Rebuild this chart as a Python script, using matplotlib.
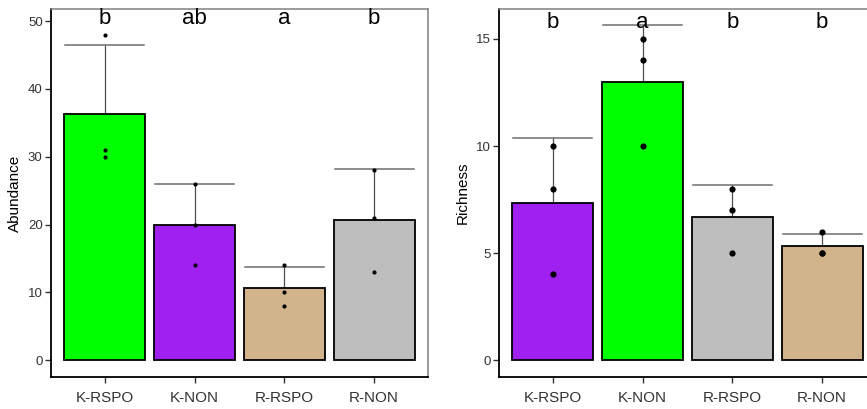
import matplotlib
matplotlib.use("Agg")
import matplotlib.pyplot as plt
import numpy as np

plt.rcParams['font.family'] = ['Liberation Sans', 'DejaVu Sans']

# ---- data ----
ab_categories = ["K-RSPO", "K-NON", "R-RSPO", "R-NON"]
ab_points = [[48, 31, 30], [26, 20, 14], [14, 10, 8], [28, 21, 13]]
ab_letters = ["b", "ab", "a", "b"]
ab_colors = ["#00FF00", "#A020F0", "#D2B48C", "#BEBEBE"]
ab_yticks = [0, 10, 20, 30, 40, 50]

ri_categories = ["K-RSPO", "K-NON", "R-RSPO", "R-NON"]
ri_points = [[10, 8, 4], [15, 14, 10], [8, 7, 5], [6, 5, 5]]
ri_letters = ["b", "a", "b", "b"]
ri_colors = ["#A020F0", "#00FF00", "#BEBEBE", "#D2B48C"]
ri_yticks = [0, 5, 10, 15]

W, H = 867, 409
fig = plt.figure(figsize=(W / 100, H / 100), dpi=100)


def panel(rect, cats, pts, letters, colors, yticks, ylabel, ylim, letter_y, dot_size):
    ax = fig.add_axes(rect)
    x = np.arange(1, len(cats) + 1)
    means = np.array([np.mean(p) for p in pts])
    sds = np.array([np.std(p, ddof=1) for p in pts])
    # error bars (upper only)
    for xi, m, s in zip(x, means, sds):
        ax.plot([xi, xi], [m, m + s], color="#4d4d4d", lw=0.9, zorder=1)
        ax.plot([xi - 0.44, xi + 0.44], [m + s, m + s], color="#6e6e6e", lw=1.1, zorder=1)
    ax.bar(x, means, width=0.9, color=colors, edgecolor="black", linewidth=1.3, zorder=2)
    for xi, p in zip(x, pts):
        ax.scatter([xi] * len(p), p, s=dot_size, color="black", zorder=3, linewidths=0)
    for xi, lab in zip(x, letters):
        ax.text(xi, letter_y, lab, ha="center", va="center", fontsize=16, color="black", zorder=4)
    ax.set_xlim(0.4, 4.6)
    ax.set_ylim(*ylim)
    ax.set_xticks(x)
    ax.set_xticklabels(cats, fontsize=11, color="#333333")
    ax.set_yticks(yticks)
    ax.set_yticklabels([str(t) for t in yticks], fontsize=9.5, color="#333333")
    ax.set_ylabel(ylabel, fontsize=11, color="black", labelpad=4)
    ax.tick_params(axis="both", length=4, width=1, color="#333333")
    ax.tick_params(axis="x", pad=6)
    ax.tick_params(axis="y", pad=2)
    for s in ["left", "bottom"]:
        ax.spines[s].set_color("black")
        ax.spines[s].set_linewidth(1.3)
    for s in ["top", "right"]:
        ax.spines[s].set_color("#808080")
        ax.spines[s].set_linewidth(1.1)
    return ax


axw = 377 / W
axb = (H - 377) / H
axh = 368 / H
panel([51 / W, axb, axw, axh], ab_categories, ab_points, ab_letters, ab_colors,
      ab_yticks, "Abundance", (-2.5, 51.8), 50.4, 9)
panel([499 / W, axb, axw, axh], ri_categories, ri_points, ri_letters, ri_colors,
      ri_yticks, "Richness", (-0.79, 16.4), 15.75, 20)

fig.savefig("out.png", dpi=100)
